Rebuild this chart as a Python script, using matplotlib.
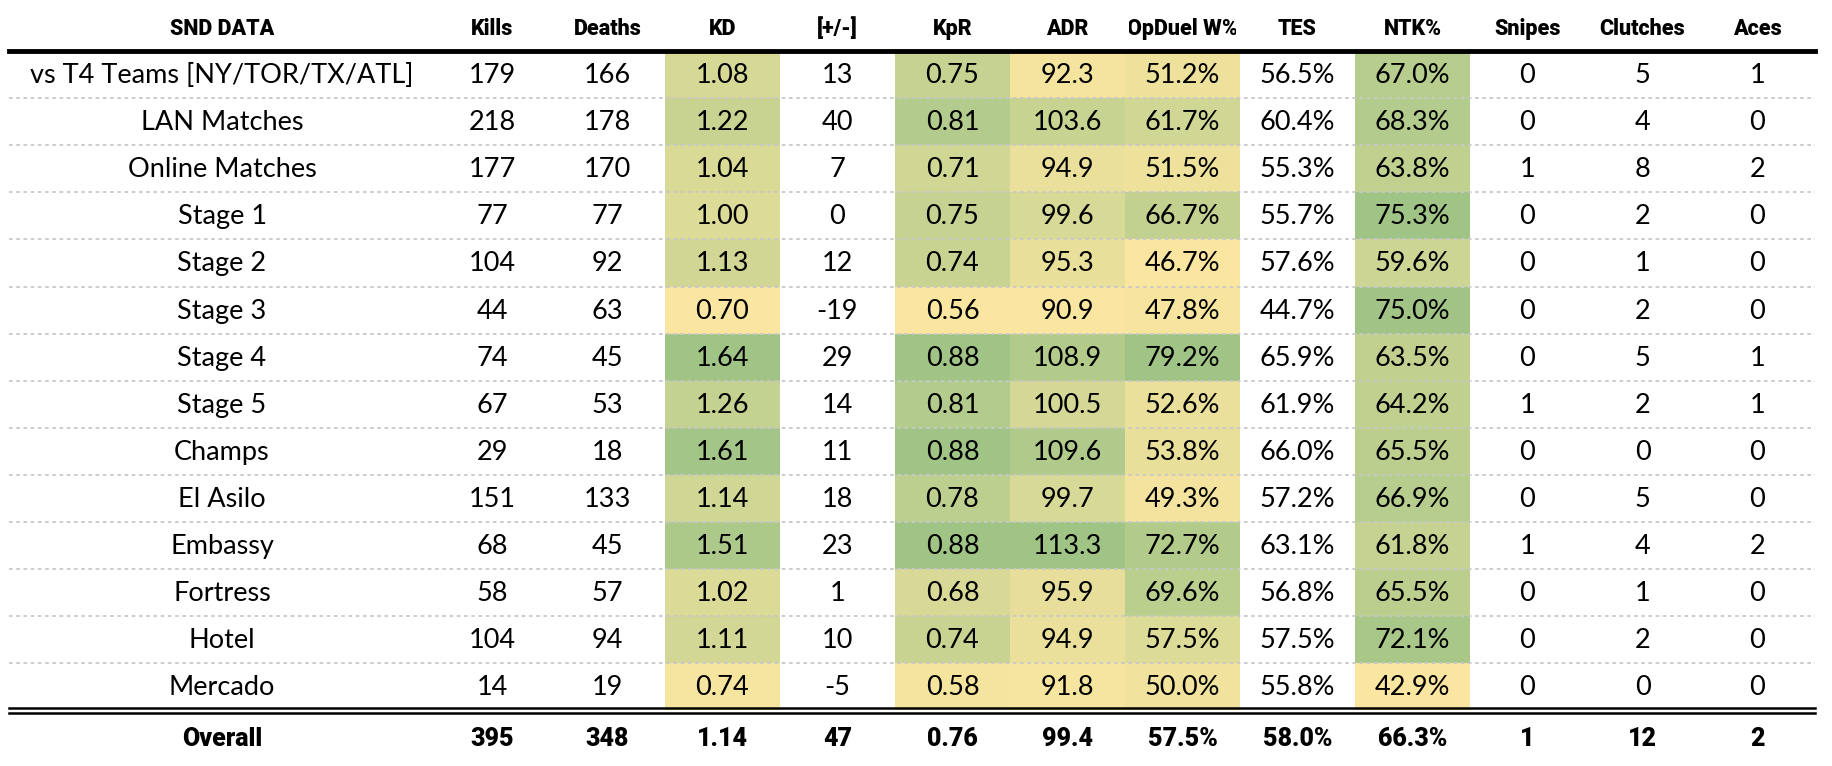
import numpy as np
import matplotlib
matplotlib.use('Agg')
import matplotlib.pyplot as plt
from matplotlib.patches import Rectangle
from matplotlib.colors import LinearSegmentedColormap, Normalize
from matplotlib.transforms import Bbox, TransformedBbox
from matplotlib import font_manager as fm

# --- data ---
row_labels = ["vs T4 Teams [NY/TOR/TX/ATL]", "LAN Matches", "Online Matches", "Stage 1", "Stage 2",
              "Stage 3", "Stage 4", "Stage 5", "Champs", "El Asilo", "Embassy", "Fortress", "Hotel", "Mercado"]
columns = ["SND DATA", "Kills", "Deaths", "KD", "[+/-]", "KpR", "ADR", "OpDuel W%", "TES", "NTK%",
           "Snipes", "Clutches", "Aces"]
kills = [179, 218, 177, 77, 104, 44, 74, 67, 29, 151, 68, 58, 104, 14]
deaths = [166, 178, 170, 77, 92, 63, 45, 53, 18, 133, 45, 57, 94, 19]
kd = [1.08, 1.22, 1.04, 1.00, 1.13, 0.70, 1.64, 1.26, 1.61, 1.14, 1.51, 1.02, 1.11, 0.74]
plus_minus = [13, 40, 7, 0, 12, -19, 29, 14, 11, 18, 23, 1, 10, -5]
kpr = [0.75, 0.81, 0.71, 0.75, 0.74, 0.56, 0.88, 0.81, 0.88, 0.78, 0.88, 0.68, 0.74, 0.58]
adr = [92.3, 103.6, 94.9, 99.6, 95.3, 90.9, 108.9, 100.5, 109.6, 99.7, 113.3, 95.9, 94.9, 91.8]
opduel = [51.2, 61.7, 51.5, 66.7, 46.7, 47.8, 79.2, 52.6, 53.8, 49.3, 72.7, 69.6, 57.5, 50.0]
tes = [56.5, 60.4, 55.3, 55.7, 57.6, 44.7, 65.9, 61.9, 66.0, 57.2, 63.1, 56.8, 57.5, 55.8]
ntk = [67.0, 68.3, 63.8, 75.3, 59.6, 75.0, 63.5, 64.2, 65.5, 66.9, 61.8, 65.5, 72.1, 42.9]
snipes = [0, 0, 1, 0, 0, 0, 0, 1, 0, 0, 1, 0, 0, 0]
clutches = [5, 4, 8, 2, 1, 2, 5, 2, 0, 5, 4, 1, 2, 0]
aces = [1, 0, 2, 0, 0, 0, 1, 1, 0, 0, 2, 0, 0, 0]
overall = ["Overall", "395", "348", "1.14", "47", "0.76", "99.4", "57.5%", "58.0%", "66.3%", "1", "12", "2"]

col_values = [kills, deaths, kd, plus_minus, kpr, adr, opduel, tes, ntk, snipes, clutches, aces]
col_fmt = ["{:d}", "{:d}", "{:.2f}", "{:d}", "{:.2f}", "{:.1f}", "{:.1f}%", "{:.1f}%", "{:.1f}%",
           "{:d}", "{:d}", "{:d}"]
colored = {"KD", "KpR", "ADR", "OpDuel W%", "NTK%"}


def pick(*names):
    avail = {f.name for f in fm.fontManager.ttflist}
    return [n for n in names if n in avail] + ["DejaVu Sans"]


body_font = pick("Lato", "Open Sans")
head_font = pick("Roboto", "Open Sans")

cmap = LinearSegmentedColormap.from_list("yg", ["#fae6a0", "#a0c486"])

W, H = 1832, 766
fig = plt.figure(figsize=(W / 100, H / 100), dpi=100)
ax = fig.add_axes([0, 0, 1, 1])
ax.set_xlim(0, W)
ax.set_ylim(H, 0)
ax.axis('off')

left = 9
first_w = 426
col_w = 115
edges = [left, left + first_w] + [left + first_w + col_w * (i + 1) for i in range(12)]
right = edges[-1]
head_y = 29
top_line = 51
row_h = 47.1
n = len(row_labels)
row_top = [top_line + i * row_h for i in range(n)]
double_y = top_line + n * row_h
overall_y = 739

# header
for j, name in enumerate(columns):
    x0, x1 = edges[j], edges[j + 1]
    t = ax.text((x0 + x1) / 2, head_y, name, ha='center', va='center', fontsize=15.5,
                fontweight='black', family=head_font)
    clip = TransformedBbox(Bbox([[x0 + 4, 0], [x1 - 4, top_line]]), ax.transData)
    t.set_clip_box(clip)
    t.set_clip_on(True)

# cells
for j, vals in enumerate(col_values):
    x0, x1 = edges[j + 1], edges[j + 2]
    norm = Normalize(min(vals), max(vals))
    for i, v in enumerate(vals):
        y0 = row_top[i]
        if columns[j + 1] in colored:
            ax.add_patch(Rectangle((x0, y0), x1 - x0, row_h, facecolor=cmap(norm(v)),
                                   edgecolor='none', zorder=1))
        ax.text((x0 + x1) / 2, y0 + row_h / 2 + 1, col_fmt[j].format(v), ha='center', va='center',
                fontsize=19.5, family=body_font, zorder=3)

for i, lab in enumerate(row_labels):
    ax.text((edges[0] + edges[1]) / 2, row_top[i] + row_h / 2 + 1, lab, ha='center', va='center',
            fontsize=19.5, family=body_font, zorder=3)

# row separators
for i in range(1, n):
    ax.plot([left, right], [row_top[i], row_top[i]], color='#c8c8c8', lw=1.3,
            linestyle=(0, (2, 2)), zorder=2)

ax.plot([left, right], [top_line, top_line], color='black', lw=3.5, zorder=4)
ax.plot([left, right], [double_y - 2, double_y - 2], color='black', lw=1.8, zorder=4)
ax.plot([left, right], [double_y + 3, double_y + 3], color='black', lw=1.8, zorder=4)

for j, s in enumerate(overall):
    ax.text((edges[j] + edges[j + 1]) / 2, overall_y, s, ha='center', va='center', fontsize=18,
            fontweight='black', family=head_font, zorder=3)

fig.savefig("out.png", dpi=100, facecolor='white')
